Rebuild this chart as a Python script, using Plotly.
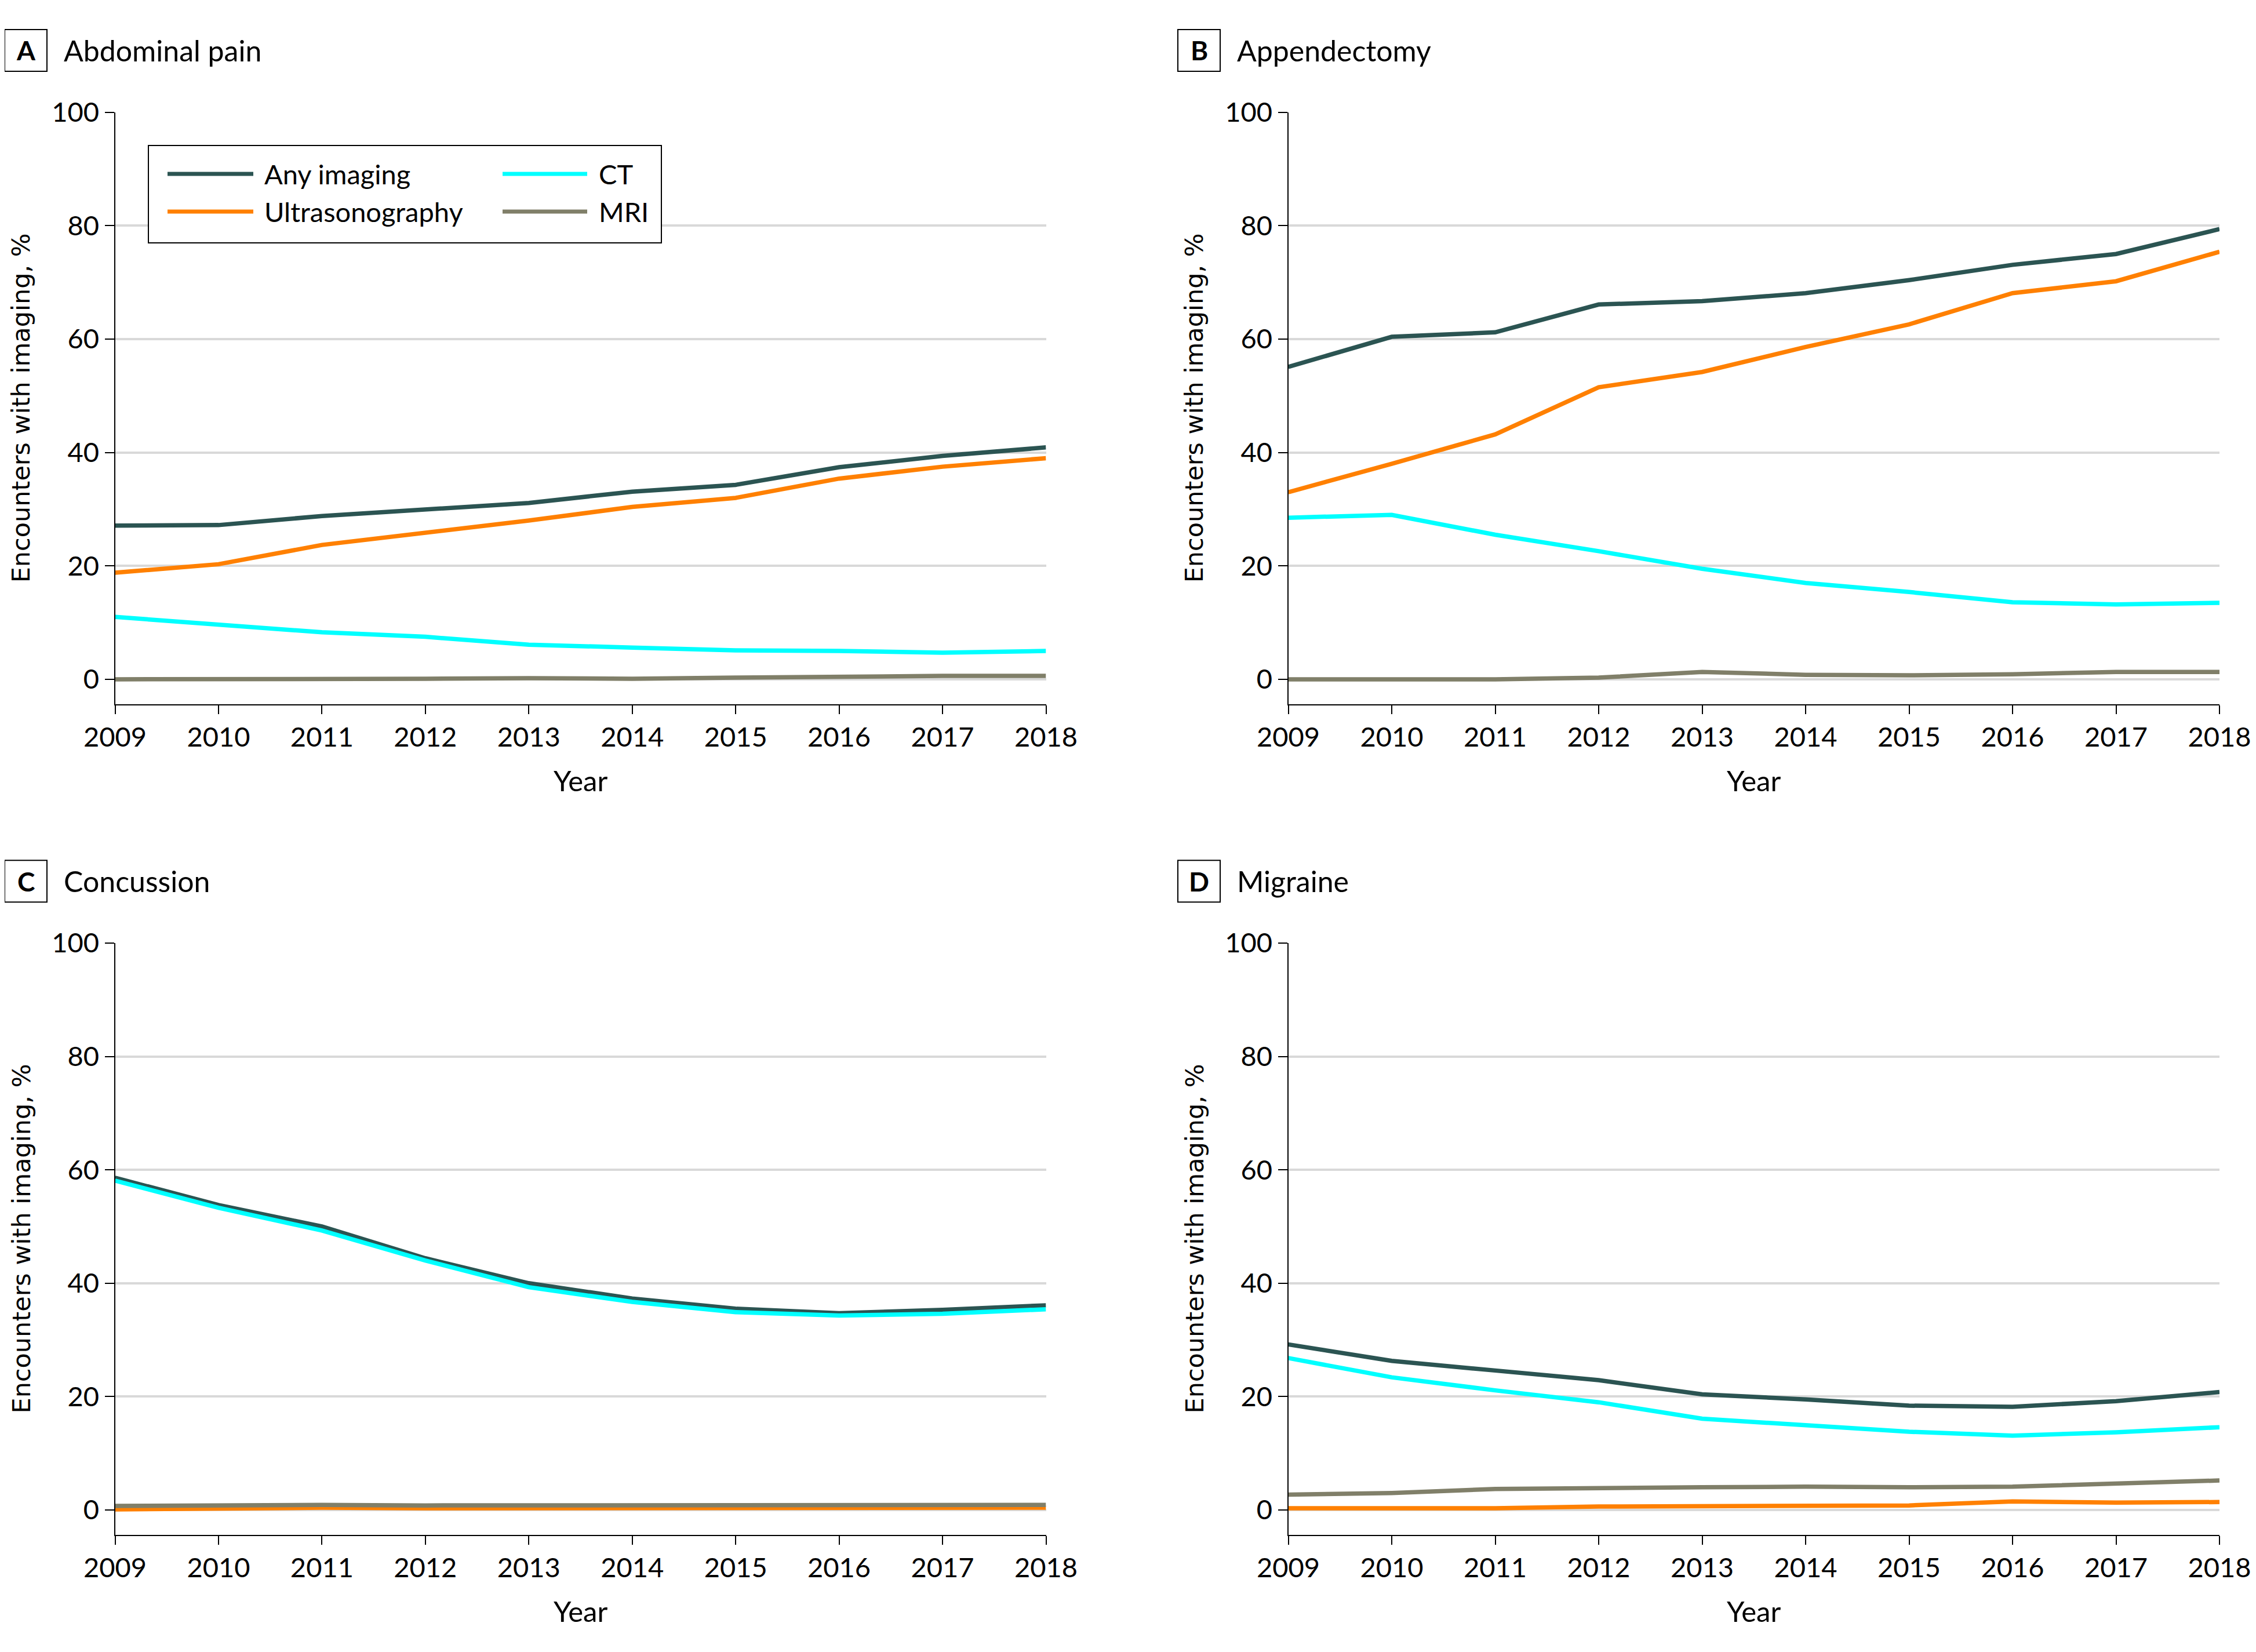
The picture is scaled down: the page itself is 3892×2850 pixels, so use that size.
import plotly.graph_objects as go

# ---------------- data ----------------
years = [2009, 2010, 2011, 2012, 2013, 2014, 2015, 2016, 2017, 2018]
series_names = ["Any imaging", "Ultrasonography", "CT", "MRI"]
series_colors = ["#2b5452", "#ff8000", "#00ffff", "#807f69"]

panel_letters = ["A", "B", "C", "D"]
panel_titles = ["Abdominal pain", "Appendectomy", "Concussion", "Migraine"]

abd_any = [27.1, 27.2, 28.8, 30.0, 31.1, 33.1, 34.3, 37.4, 39.4, 40.9]
abd_us = [18.8, 20.3, 23.7, 25.8, 28.0, 30.4, 32.0, 35.4, 37.5, 39.0]
abd_ct = [11.0, 9.7, 8.3, 7.5, 6.1, 5.6, 5.1, 5.0, 4.7, 5.0]
abd_mri = [0.0, 0.0, 0.0, 0.1, 0.2, 0.1, 0.3, 0.5, 0.6, 0.6]

app_any = [55.1, 60.4, 61.2, 66.1, 66.7, 68.1, 70.4, 73.1, 75.0, 79.4]
app_us = [33.0, 38.0, 43.2, 51.5, 54.2, 58.6, 62.6, 68.1, 70.2, 75.4]
app_ct = [28.5, 29.0, 25.5, 22.6, 19.5, 17.0, 15.4, 13.6, 13.2, 13.5]
app_mri = [0.0, 0.0, 0.0, 0.3, 1.3, 0.8, 0.7, 0.9, 1.3, 1.3]

con_any = [58.6, 53.8, 50.0, 44.4, 40.0, 37.3, 35.5, 34.7, 35.3, 36.1]
con_us = [0.1, 0.2, 0.4, 0.3, 0.3, 0.4, 0.3, 0.3, 0.4, 0.4]
con_ct = [58.1, 53.3, 49.3, 44.0, 39.3, 36.7, 34.9, 34.3, 34.6, 35.4]
con_mri = [0.7, 0.8, 0.9, 0.8, 0.8, 0.9, 0.8, 0.8, 0.9, 0.9]

mig_any = [29.2, 26.3, 24.6, 22.9, 20.4, 19.5, 18.4, 18.2, 19.2, 20.8]
mig_us = [0.3, 0.3, 0.3, 0.6, 0.7, 0.8, 0.8, 1.5, 1.3, 1.4]
mig_ct = [26.8, 23.4, 21.1, 19.0, 16.1, 14.9, 13.8, 13.1, 13.7, 14.6]
mig_mri = [2.7, 3.0, 3.7, 3.9, 4.0, 4.1, 4.0, 4.1, 4.7, 5.2]

panel_data = [
    [abd_any, abd_us, abd_ct, abd_mri],
    [app_any, app_us, app_ct, app_mri],
    [con_any, con_us, con_ct, con_mri],
    [mig_any, mig_us, mig_ct, mig_mri],
]

y_ticks = [0, 20, 40, 60, 80, 100]

# ---------------- layout geometry (pixels of the page) ----------------
PAGE_OFF = 8                      # default body margin of the html page
W, H = 3892 - PAGE_OFF, 2850 - PAGE_OFF
SANS = "Lato, 'Liberation Sans', Arial, sans-serif"
YT_FONT = "'DejaVu Sans', Verdana, sans-serif"

def px(x):
    return (x - PAGE_OFF) / W

def py(y):
    return 1 - (y - PAGE_OFF) / H

# plot areas: (left, right, top, bottom) in page px
areas = [
    (198.5, 1804.5, 193.7, 1215.0),
    (2222.5, 3829.0, 193.7, 1215.0),
    (198.5, 1804.5, 1627.0, 2648.0),
    (2222.5, 3829.0, 1627.0, 2648.0),
]

fig = go.Figure()
annotations = []
shapes = []

for i in range(4):
    ax = "" if i == 0 else str(i + 1)
    for s in range(4):
        fig.add_trace(go.Scatter(
            x=years, y=panel_data[i][s], mode="lines",
            name=series_names[s],
            line=dict(color=series_colors[s], width=7.5),
            xaxis="x" + ax, yaxis="y" + ax, showlegend=False,
        ))
    l, r, t, b = areas[i]
    fig.layout["xaxis" + ax] = dict(
        domain=[px(l), px(r)], anchor="y" + ax, range=[2009, 2018],
        tickvals=years, ticktext=[str(v) for v in years],
        showgrid=False, zeroline=False, showline=True, linecolor="black",
        linewidth=2, ticks="outside", ticklen=15, tickwidth=2, tickcolor="black",
        tickfont=dict(family=SANS, size=47, color="black"),
        fixedrange=True, automargin=False,
    )
    fig.layout["yaxis" + ax] = dict(
        domain=[py(b), py(t)], anchor="x" + ax, range=[-4.4, 100],
        tickvals=y_ticks, ticktext=[str(v) for v in y_ticks],
        showgrid=True, gridcolor="#d9d9d9", gridwidth=4, zeroline=False,
        showline=True, linecolor="black", linewidth=2,
        ticks="outside", ticklen=16, tickwidth=2, tickcolor="black",
        tickfont=dict(family=SANS, size=47, color="black"),
        fixedrange=True, automargin=False,
    )
    # panel label box + title
    dx = l - 198.5
    dy = t - 193.7
    shapes.append(dict(type="rect", xref="paper", yref="paper",
                       x0=px(8 + dx), x1=px(81 + dx), y0=py(123 + dy), y1=py(51 + dy),
                       line=dict(color="black", width=2), fillcolor="white"))
    annotations.append(dict(text="<b>" + panel_letters[i] + "</b>", xref="paper", yref="paper",
                            x=px(44.5 + dx), y=py(87 + dy), xanchor="center", yanchor="middle",
                            showarrow=False, font=dict(family=SANS, size=46, color="black")))
    annotations.append(dict(text=panel_titles[i], xref="paper", yref="paper",
                            x=px(108 + dx), y=py(87 + dy), xanchor="left", yanchor="middle",
                            showarrow=False, font=dict(family=SANS, size=50, color="black")))
    # axis titles
    annotations.append(dict(text="Encounters with imaging, %", xref="paper", yref="paper",
                            x=px(36 + dx), y=py((t + b) / 2), xanchor="center", yanchor="middle",
                            textangle=-90, showarrow=False,
                            font=dict(family=YT_FONT, size=43, color="black")))
    annotations.append(dict(text="Year", xref="paper", yref="paper",
                            x=px((l + r) / 2), y=py(1346 + dy), xanchor="center", yanchor="middle",
                            showarrow=False, font=dict(family=SANS, size=49, color="black")))

# ---------------- legend (panel A) ----------------
shapes.append(dict(type="rect", xref="paper", yref="paper",
                   x0=px(256), x1=px(1141), y0=py(419), y1=py(251),
                   line=dict(color="black", width=2), fillcolor="white", layer="above"))
leg_pos = [(289, 437, 454, 300), (289, 437, 454, 365), (867, 1013, 1031, 300), (867, 1013, 1031, 365)]
for s in range(4):
    x0, x1, xt, yy = leg_pos[s]
    shapes.append(dict(type="line", xref="paper", yref="paper",
                       x0=px(x0), x1=px(x1), y0=py(yy), y1=py(yy),
                       line=dict(color=series_colors[s], width=7), layer="above"))
    annotations.append(dict(text=series_names[s], xref="paper", yref="paper",
                            x=px(xt), y=py(yy), xanchor="left", yanchor="middle",
                            showarrow=False, font=dict(family=SANS, size=47, color="black")))

fig.update_layout(
    width=W, height=H, margin=dict(l=0, r=0, t=0, b=0, autoexpand=False),
    paper_bgcolor="white", plot_bgcolor="white",
    shapes=shapes, annotations=annotations, showlegend=False,
)

fig.write_html("out.html")
